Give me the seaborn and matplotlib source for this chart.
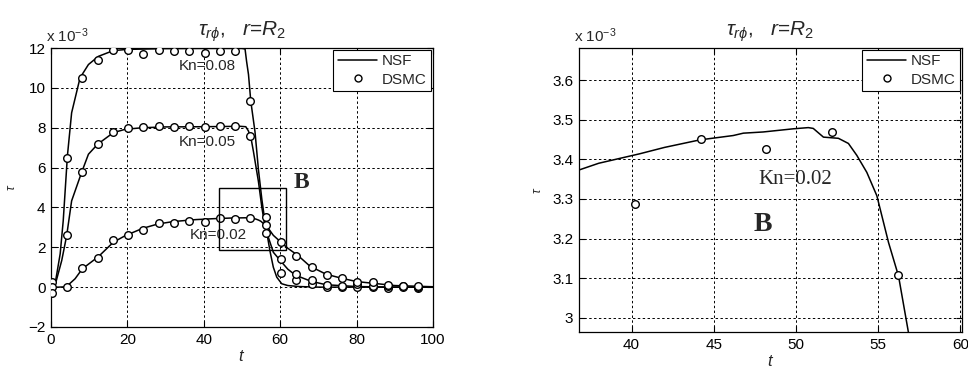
import numpy as np
import matplotlib
matplotlib.use("Agg")
import matplotlib.pyplot as plt
import seaborn as sns
from matplotlib.lines import Line2D
from matplotlib.patches import Rectangle
from matplotlib.ticker import FuncFormatter

# values in units of 1e-3 (the "x 10^-3" on the axes)
t_dsmc = [0.2, 4.2, 8.2, 12.2, 16.2, 20.2, 24.2, 28.2, 32.2, 36.2, 40.2, 44.2, 48.2,
          52.2, 56.2, 60.2, 64.2, 68.2, 72.2, 76.2, 80.2, 84.2, 88.2, 92.2, 96.2]
dsmc_kn08 = [0.25, 6.5, 10.5, 11.38, 11.9, 11.9, 11.68, 11.88, 11.83, 11.87, 11.76, 11.87, 11.83,
             9.35, 2.7, 0.7, 0.35, 0.18, 0.0, 0.0, 0.03, 0.0, -0.02, 0.04, -0.05]
dsmc_kn05 = [0.0, 2.6, 5.8, 7.2, 7.8, 7.97, 8.03, 8.08, 8.05, 8.08, 8.05, 8.08, 8.1,
             7.6, 3.5, 1.4, 0.68, 0.37, 0.12, 0.05, 0.18, 0.05, 0.05, 0.0, 0.02]
dsmc_kn02 = [-0.28, 0.0, 0.95, 1.47, 2.35, 2.6, 2.88, 3.2, 3.22, 3.33, 3.287, 3.45, 3.425,
             3.468, 3.108, 2.28, 1.57, 1.03, 0.62, 0.48, 0.28, 0.26, 0.12, 0.08, 0.06]

t_nsf08 = [0, 1.0, 2.4, 3.2, 4.3, 5.4, 7.6, 9.8, 12.4, 16.3, 20, 30, 40, 50, 50.8, 51.2, 51.7,
           52.3, 53.4, 54.3, 55.2, 56.0, 57.3, 58.2, 59.1, 60.4, 62, 65, 70, 80, 100]
nsf08 = [0, 0.08, 1.67, 3.33, 6.6, 8.75, 10.5, 11.17, 11.58, 11.87, 11.93, 11.97, 11.98, 11.98,
         11.95, 11.33, 10.67, 9.33, 7.8, 5.9, 4.4, 3.3, 1.83, 1.0, 0.5, 0.17, 0.08, 0.03, 0.0, 0.0, 0.0]

t_nsf05 = [0, 1.0, 2.8, 4.1, 5.4, 8.0, 9.8, 12.2, 16.3, 19.4, 24, 30, 40, 49.5, 51.0, 51.7, 52.5,
           53.0, 54.3, 55.2, 56.0, 56.9, 58.2, 60.4, 62, 64, 68, 72, 80, 90, 100]
nsf05 = [0, 0.05, 1.33, 2.58, 4.33, 5.75, 6.67, 7.17, 7.75, 7.92, 8.0, 8.04, 8.05, 8.07, 8.05,
         7.83, 7.33, 6.8, 5.3, 4.0, 3.05, 2.5, 1.75, 1.25, 0.9, 0.6, 0.3, 0.12, 0.03, 0.0, 0.0]

t_nsf02 = [0, 2, 4, 6.3, 8.2, 12.4, 16.3, 19.4, 24, 28, 32, 36.8, 38, 40.5, 42, 44.15, 46.18,
           46.8, 48, 49.84, 50.75, 51.05, 51.67, 52.58, 53.19, 53.7, 54.31, 54.92, 55.63, 56.24,
           56.85, 58.2, 60.4, 62, 64.7, 67.8, 72, 76, 80, 84, 90, 100]
nsf02 = [0, 0, 0.02, 0.42, 0.92, 1.53, 2.25, 2.58, 2.95, 3.17, 3.29, 3.373, 3.39, 3.414, 3.43,
         3.449, 3.46, 3.466, 3.469, 3.477, 3.48, 3.478, 3.456, 3.453, 3.44, 3.41, 3.367, 3.308,
         3.19, 3.105, 2.961, 2.6, 2.22, 1.95, 1.58, 1.05, 0.65, 0.45, 0.28, 0.2, 0.08, 0.02]

sns.set_style("white")
plt.rcParams['font.family'] = ['Liberation Sans', 'DejaVu Sans']
plt.rcParams['mathtext.fontset'] = 'custom'
plt.rcParams['mathtext.rm'] = 'Liberation Sans'
plt.rcParams['mathtext.it'] = 'Liberation Sans:italic'
plt.rcParams['mathtext.bf'] = 'Liberation Sans:bold'

fig = plt.figure(figsize=(9.68, 3.70), dpi=100)
ax1 = fig.add_axes([51 / 968, 1 - 327 / 370, 382 / 968, 279 / 370])
ax2 = fig.add_axes([579 / 968, 1 - 332 / 370, 383 / 968, 284 / 370])

line_kw = dict(color='black', linewidth=1.1, zorder=3)
mark_kw = dict(marker='o', s=30, facecolor='white', edgecolor='black', linewidth=1.0, zorder=4)

for tt, vv in [(t_nsf08, nsf08), (t_nsf05, nsf05), (t_nsf02, nsf02)]:
    sns.lineplot(x=tt, y=vv, ax=ax1, **line_kw)
for vv in [dsmc_kn08, dsmc_kn05, dsmc_kn02]:
    sns.scatterplot(x=t_dsmc, y=vv, ax=ax1, **mark_kw)

sns.lineplot(x=t_nsf02, y=nsf02, ax=ax2, **line_kw)
sns.scatterplot(x=t_dsmc, y=dsmc_kn02, ax=ax2, **mark_kw)

ax1.set_xlim(0, 100)
ax1.set_ylim(-2, 12)
ax1.set_xticks([0, 20, 40, 60, 80, 100])
ax1.set_yticks([-2, 0, 2, 4, 6, 8, 10, 12])
ax2.set_xlim(36.8, 60.1)
ax2.set_ylim(2.964, 3.681)
ax2.set_xticks([40, 45, 50, 55, 60])
ax2.set_yticks([3.0, 3.1, 3.2, 3.3, 3.4, 3.5, 3.6])
ax2.yaxis.set_major_formatter(FuncFormatter(lambda v, p: f"{v:g}"))

for ax, ylpad in ((ax1, 7), (ax2, 6)):
    ax.grid(True, color='black', linestyle=(0, (2.5, 2.5)), linewidth=0.7)
    ax.tick_params(direction='in', length=4, width=0.8, labelsize=11, colors='black',
                   top=True, right=True, bottom=True, left=True, pad=4)
    for s in ax.spines.values():
        s.set_color('black')
        s.set_linewidth(0.9)
    ax.set_title(r'$\tau_{r\phi}$,   $r$=$R_2$', fontsize=15, pad=9)
    ax.set_xlabel(r'$t$', fontsize=12, labelpad=2)
    ax.set_ylabel(r'$\tau$', fontsize=9, labelpad=ylpad)
    ax.text(-0.012, 1.012, r'x 10$^{-3}$', transform=ax.transAxes, fontsize=11,
            ha='left', va='bottom')
    handles = [Line2D([], [], color='black', lw=1.1),
               Line2D([], [], color='black', lw=0, marker='o', markersize=5,
                      markerfacecolor='white', markeredgewidth=1.0)]
    leg = ax.legend(handles, ['NSF', 'DSMC'], loc='upper right', fontsize=11,
                    fancybox=False, framealpha=1, edgecolor='black', borderaxespad=0.1,
                    handlelength=2.6, handletextpad=0.3, borderpad=0.3, labelspacing=0.3)
    leg.get_frame().set_linewidth(0.8)

ax1.text(40.8, 11.1, 'Kn=0.08', fontsize=11, ha='center', va='center', zorder=5)
ax1.text(40.8, 7.3, 'Kn=0.05', fontsize=11, ha='center', va='center', zorder=5)
ax1.text(43.8, 2.62, 'Kn=0.02', fontsize=11, ha='center', va='center', zorder=5)
ax1.add_patch(Rectangle((44.0, 1.88), 17.4, 3.08, fill=False, edgecolor='black',
                        linewidth=1.0, zorder=5))
ax1.text(65.6, 5.23, 'B', fontsize=17, fontweight='bold', family='Liberation Serif',
         ha='center', va='center')

ax2.text(49.94, 3.35, 'Kn=0.02', fontsize=15, family='Liberation Serif',
         ha='center', va='center')
ax2.text(48.0, 3.235, 'B', fontsize=20, fontweight='bold', family='Liberation Serif',
         ha='center', va='center')

fig.savefig('out.png', dpi=100)
